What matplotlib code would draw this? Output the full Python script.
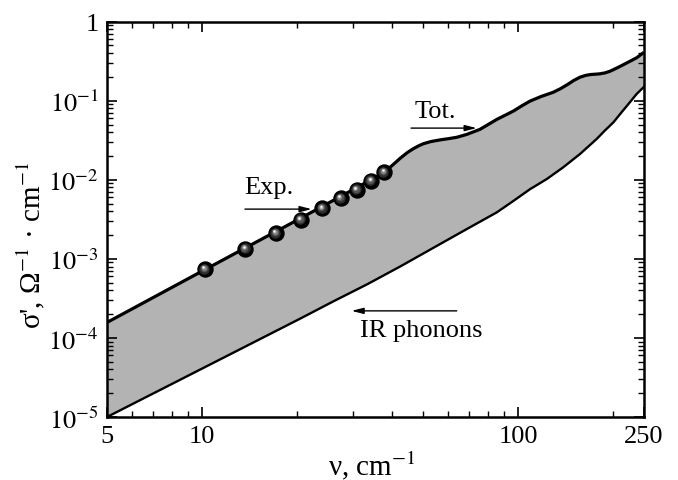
import matplotlib
matplotlib.use('Agg')
import matplotlib.pyplot as plt
from matplotlib.transforms import offset_copy
from matplotlib.ticker import FixedLocator, FixedFormatter, NullFormatter

# ---- data ----
nu_exp = [10.2, 13.7, 17.1, 20.5, 24.0, 27.4, 30.8, 34.2, 37.6]
sig_exp = [7.4e-4, 1.33e-3, 2.11e-3, 3.09e-3, 4.34e-3, 5.82e-3, 7.47e-3, 9.63e-3, 1.24e-2]

nu_tot = [5, 10, 20, 30, 37.6, 40, 42.3, 44.5, 46.6, 48.5, 50.1, 53, 56.6, 60, 63.9,
          68.7, 75.7, 85.5, 96.5, 103, 109, 118, 129, 136, 143, 150, 157, 164, 170,
          176, 181, 188, 195, 202, 210, 222, 237, 250]
sig_tot = [1.57e-4, 7.0e-4, 3.1e-3, 7.5e-3, 1.23e-2, 1.53e-2, 1.87e-2, 2.2e-2, 2.48e-2,
           2.7e-2, 2.86e-2, 3.05e-2, 3.2e-2, 3.31e-2, 3.45e-2, 3.75e-2, 4.35e-2, 5.8e-2,
           7.4e-2, 8.7e-2, 0.099, 0.113, 0.128, 0.142, 0.16, 0.181, 0.199, 0.21, 0.215,
           0.217, 0.219, 0.225, 0.236, 0.252, 0.272, 0.305, 0.35, 0.41]

nu_ir = [5, 10, 20.4, 26, 33.2, 42.3, 53.9, 68.7, 85.5, 96.5, 108.9, 123, 138.8,
         156.8, 177, 188, 200, 212, 225.7, 237, 250]
sig_ir = [1.0e-5, 4.1e-5, 1.75e-4, 2.9e-4, 4.75e-4, 8.0e-4, 1.38e-3, 2.38e-3, 3.87e-3,
          5.4e-3, 7.6e-3, 1.02e-2, 1.44e-2, 2.12e-2, 3.28e-2, 4.2e-2, 5.33e-2, 0.071,
          0.096, 0.122, 0.15]

xticks = [5, 10, 100, 250]
xticklabels = ['5', '10', '100', '250']
xminor = [6, 7, 8, 9, 20, 30, 40, 50, 60, 70, 80, 90, 200]
yticks = [1e-5, 1e-4, 1e-3, 1e-2, 1e-1, 1]
yticklabels = [r'$10^{-5}$', r'$10^{-4}$', r'$10^{-3}$', r'$10^{-2}$', r'$10^{-1}$', '1']
yminor = [m * 10.0 ** e for e in range(-5, 0) for m in range(2, 10)]

plt.rcParams['font.family'] = ['Liberation Serif', 'DejaVu Serif']
plt.rcParams['mathtext.fontset'] = 'stix'

fig = plt.figure(figsize=(6.78, 4.81), dpi=100)
ax = fig.add_axes([107 / 678, 1 - 418 / 481, 537 / 678, 395.3 / 481])
ax.set_xscale('log')
ax.set_yscale('log')

# shaded band between total and IR phonon contributions
ax.fill(nu_tot + nu_ir[::-1], sig_tot + sig_ir[::-1], color='#b3b3b3', lw=0, zorder=1)
ax.plot(nu_tot, sig_tot, color='k', lw=2.3, zorder=3, solid_joinstyle='round',
        solid_capstyle='butt')
ax.plot(nu_ir, sig_ir, color='k', lw=1.7, zorder=3, solid_joinstyle='round')

# experimental points drawn as shaded spheres
ax.plot(nu_exp, sig_exp, 'o', ms=10.8, color='black', mec='black', zorder=5)
layers = [('#2e2e2e', 7.5, -0.4, 0.5), ('#555555', 5.5, -0.7, 0.9),
          ('#8a8a8a', 3.6, -0.9, 1.2), ('#c8c8c8', 2.2, -1.0, 1.4),
          ('#ffffff', 1.2, -1.0, 1.5)]
for col, ms, dx, dy in layers:
    tr = offset_copy(ax.transData, fig=fig, x=dx, y=dy, units='points')
    ax.plot(nu_exp, sig_exp, 'o', ms=ms, color=col, mec='none', transform=tr, zorder=6)

ax.set_xlim(5, 250)
ax.set_ylim(1e-5, 1)

ax.xaxis.set_major_locator(FixedLocator(xticks))
ax.xaxis.set_major_formatter(FixedFormatter(xticklabels))
ax.xaxis.set_minor_locator(FixedLocator(xminor))
ax.xaxis.set_minor_formatter(NullFormatter())
ax.yaxis.set_major_locator(FixedLocator(yticks))
ax.yaxis.set_major_formatter(FixedFormatter(yticklabels))
ax.yaxis.set_minor_locator(FixedLocator(yminor))
ax.yaxis.set_minor_formatter(NullFormatter())

ax.tick_params(which='both', direction='in', top=True, right=True, labelsize=19)
ax.tick_params(which='major', length=7.5, width=1.2, pad=6)
ax.tick_params(which='minor', length=4, width=1.0)
for s in ax.spines.values():
    s.set_linewidth(1.8)

# annotations
arrow = dict(arrowstyle='-|>,head_length=0.7,head_width=0.18', lw=1.0, color='black',
             shrinkA=0, shrinkB=0)
ax.annotate('', xy=(73.9, 0.0451), xytext=(45.8, 0.0451), arrowprops=arrow, zorder=7)
ax.text(54.5, 0.0747, 'Tot.', fontsize=19, ha='center', va='center')
ax.annotate('', xy=(22.2, 4.26e-3), xytext=(13.66, 4.26e-3), arrowprops=arrow, zorder=7)
ax.text(16.2, 8.0e-3, 'Exp.', fontsize=19, ha='center', va='center')
ax.annotate('', xy=(29.7, 2.2e-4), xytext=(63.9, 2.2e-4), arrowprops=arrow, zorder=7)
ax.text(49.2, 1.25e-4, 'IR phonons', fontsize=19, ha='center', va='center')

fig.text(372 / 678, 1 - 466 / 481, r'ν, cm$^{-1}$', fontsize=21, ha='center', va='center')
fig.text(31 / 678, 1 - 245 / 481, r"σ', Ω$^{-1}$ · cm$^{-1}$", fontsize=21,
         ha='center', va='center', rotation=90)

fig.savefig('out.png', dpi=100)
